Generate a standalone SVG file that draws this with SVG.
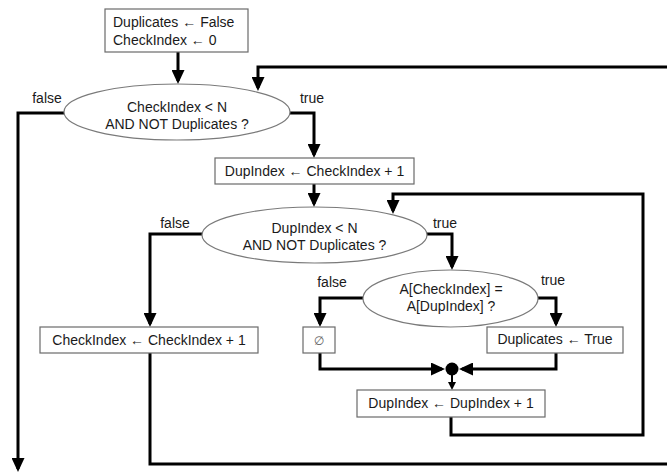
<svg xmlns="http://www.w3.org/2000/svg" width="667" height="473" viewBox="0 0 667 473">
<defs>
<style>
text{font-family:"Liberation Sans",Arial,sans-serif;font-size:14px;fill:#1a1a1a}
.m{text-anchor:middle}
.box{fill:#fff;stroke:#6a6a6a;stroke-width:1.2}
.dec{fill:#fff;stroke:#7a7a7a;stroke-width:1.2}
.c{fill:none;stroke:#000;stroke-width:3;stroke-linejoin:miter}
.t{fill:none;stroke:#000;stroke-width:2}
</style>
<marker id="ah" markerUnits="userSpaceOnUse" viewBox="0 0 14 13" markerWidth="14" markerHeight="13" refX="11" refY="6.5" orient="auto"><path d="M0,0 L14,6.5 L0,13 Z" fill="#000"/></marker>
<marker id="sh" markerUnits="userSpaceOnUse" viewBox="0 0 8 8" markerWidth="8" markerHeight="8" refX="6" refY="4" orient="auto"><path d="M0,0 L8,4 L0,8 Z" fill="#000"/></marker>
</defs>
<g id="connectors">
<path class="c" d="M178,52 V81" marker-end="url(#ah)"/>
<path class="c" d="M667,67 H258 V88" marker-end="url(#ah)"/>
<path class="c" d="M64,113 H18 V469" marker-end="url(#ah)"/>
<path class="c" d="M290,113 H314 V155" marker-end="url(#ah)"/>
<path class="c" d="M314,184 V204" marker-end="url(#ah)"/>
<path class="c" d="M202,234 H150 V324" marker-end="url(#ah)"/>
<path class="c" d="M427,234 H452 V267" marker-end="url(#ah)"/>
<path class="c" d="M150,353 V464 H667"/>
<path class="c" d="M538,298 H556 V324" marker-end="url(#ah)"/>
<path class="c" d="M363,298 H320 V324" marker-end="url(#ah)"/>
<path class="c" d="M320,353 V369 H442" marker-end="url(#ah)"/>
<path class="c" d="M556,353 V369 H462" marker-end="url(#ah)"/>
<path class="t" d="M452,375 V388" marker-end="url(#sh)"/>
<path class="c" d="M451,417 V435 H643 V194 H393 V211" marker-end="url(#ah)"/>
<circle cx="452" cy="369" r="6.5" fill="#000"/>
<text x="47" y="103" class="m">false</text>
<text x="312" y="103" class="m">true</text>
<text x="175" y="228" class="m">false</text>
<text x="445" y="228" class="m">true</text>
<text x="332" y="287" class="m">false</text>
<text x="553" y="285" class="m">true</text>
</g>
<g id="init">
<rect class="box" x="105" y="9" width="143" height="43"/>
<text x="113" y="27">Duplicates ← False</text>
<text x="113" y="45">CheckIndex ← 0</text>
</g>
<g id="outerCond">
<ellipse class="dec" cx="177" cy="112" rx="113" ry="28"/>
<text x="177" y="112" class="m">CheckIndex &lt; N</text>
<text x="177" y="129" class="m">AND NOT Duplicates ?</text>
</g>
<g id="setDup">
<rect class="box" x="215" y="158" width="199" height="26"/>
<text x="314.5" y="176" class="m">DupIndex ← CheckIndex + 1</text>
</g>
<g id="innerCond">
<ellipse class="dec" cx="314.5" cy="235" rx="112.5" ry="28"/>
<text x="314.5" y="233" class="m">DupIndex &lt; N</text>
<text x="314.5" y="250" class="m">AND NOT Duplicates ?</text>
</g>
<g id="incCheck">
<rect class="box" x="40" y="327" width="218" height="26"/>
<text x="149" y="345" class="m">CheckIndex ← CheckIndex + 1</text>
</g>
<g id="compare">
<ellipse class="dec" cx="450.5" cy="298.5" rx="87.5" ry="28.5"/>
<text x="451" y="294" class="m">A[CheckIndex] =</text>
<text x="451" y="311" class="m">A[DupIndex] ?</text>
</g>
<g id="empty">
<rect class="box" x="303" y="327" width="32" height="26"/>
<text x="319" y="345" class="m" style="fill:#666;font-family:'DejaVu Sans',sans-serif;font-size:12px">∅</text>
</g>
<g id="setTrue">
<rect class="box" x="487" y="327" width="136" height="26"/>
<text x="555" y="344" class="m">Duplicates ← True</text>
</g>
<g id="incDup">
<rect class="box" x="357" y="390" width="188" height="27"/>
<text x="451" y="408" class="m">DupIndex ← DupIndex + 1</text>
</g>
</svg>
